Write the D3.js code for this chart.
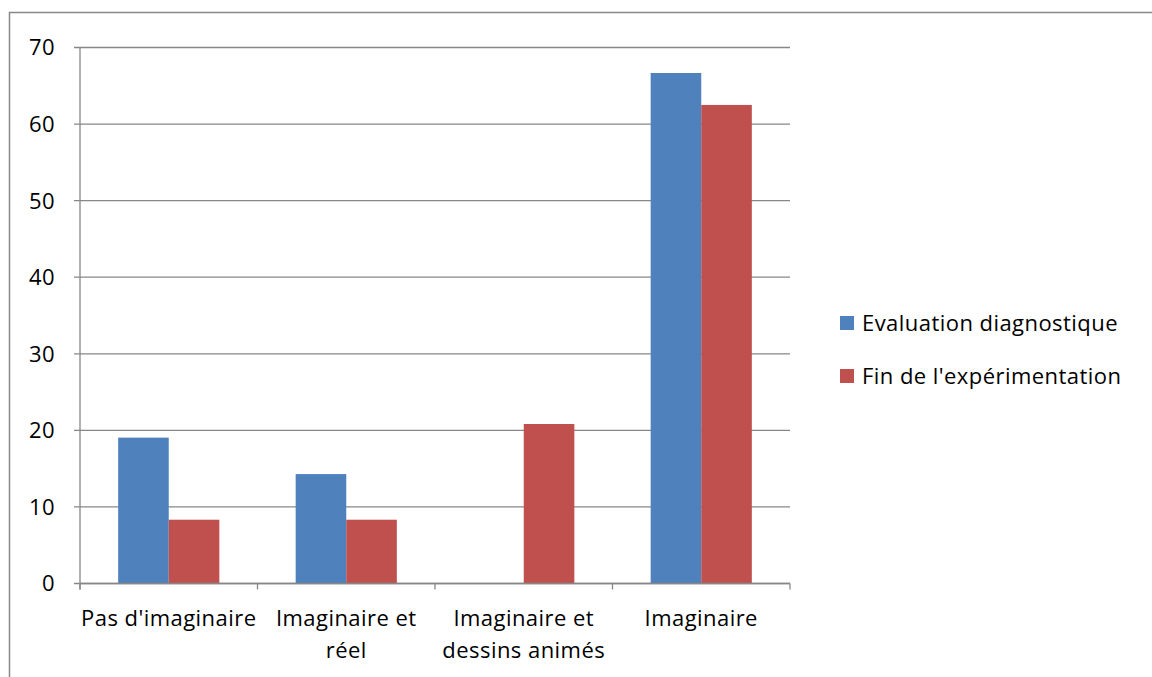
<!DOCTYPE html>
<html><head><meta charset="utf-8">
<script src="https://cdn.jsdelivr.net/npm/d3@7"></script>
<style>body{margin:0;background:#fff}svg{display:block}</style>
</head><body>
<script>
const categories = [["Pas d'imaginaire"], ["Imaginaire et", "réel"], ["Imaginaire et", "dessins animés"], ["Imaginaire"]];
const seriesNames = ["Evaluation diagnostique", "Fin de l'expérimentation"];
const evalValues = [19.05, 14.29, 0, 66.67];
const finValues = [8.33, 8.33, 20.83, 62.5];
const yTicks = [0, 10, 20, 30, 40, 50, 60, 70];
const colors = ["#4F81BD", "#C0504D"];

const W = 1152, H = 677;
const font = "'Open Sans', sans-serif";
const fs = 22, ls = 0.45;
const svg = d3.select("body").append("svg").attr("width", W).attr("height", H);
svg.append("rect").attr("x", 9.5).attr("y", 12.5).attr("width", W).attr("height", H)
  .attr("fill", "none").attr("stroke", "#898989").attr("stroke-width", 1.5);

const L = 80, R = 790, T = 47.5, B = 583.5;
const x = d3.scaleBand().domain(d3.range(categories.length)).range([L, R]).paddingInner(0.43).paddingOuter(0.215);
const xs = d3.scaleBand().domain([0, 1]).range([0, x.bandwidth()]);
const y = d3.scaleLinear().domain([0, 70]).range([B, T]);

const grid = svg.append("g");
grid.selectAll("line").data(yTicks).join("line")
  .attr("x1", L - 6).attr("x2", R).attr("y1", d => y(d)).attr("y2", d => y(d))
  .attr("stroke", "#878787").attr("stroke-width", 1.3);
svg.append("g").selectAll("text").data(yTicks).join("text")
  .attr("x", 55).attr("y", d => y(d)).attr("dy", "0.36em").attr("text-anchor", "end")
  .attr("font-family", font).attr("font-size", fs).attr("letter-spacing", ls).attr("fill", "#000").text(d => d);

const series = [evalValues, finValues];
series.forEach((vals, si) => {
  svg.append("g").selectAll("rect").data(vals).join("rect")
    .attr("x", (d, i) => x(i) + xs(si)).attr("width", xs.bandwidth())
    .attr("y", d => y(d)).attr("height", d => B - y(d)).attr("fill", colors[si]);
});

// axes
svg.append("line").attr("x1", L).attr("x2", L).attr("y1", T).attr("y2", B + 6).attr("stroke", "#878787").attr("stroke-width", 1.3);
svg.append("line").attr("x1", L).attr("x2", R).attr("y1", B).attr("y2", B).attr("stroke", "#878787").attr("stroke-width", 1.3);
const step = (R - L) / categories.length;
svg.append("g").selectAll("line").data(d3.range(categories.length + 1)).join("line")
  .attr("x1", i => L + i * step).attr("x2", i => L + i * step).attr("y1", B).attr("y2", B + 6)
  .attr("stroke", "#878787").attr("stroke-width", 1.3);

const lab = svg.append("g").selectAll("text").data(categories).join("text")
  .attr("x", (d, i) => L + (i + 0.5) * step).attr("y", 625.5).attr("text-anchor", "middle")
  .attr("font-family", font).attr("font-size", fs).attr("letter-spacing", ls).attr("fill", "#000");
lab.selectAll("tspan").data(d => d).join("tspan")
  .attr("x", function() { return this.parentNode.getAttribute("x"); })
  .attr("dy", (d, j) => j === 0 ? 0 : 32.5).text(d => d);

const leg = svg.append("g").selectAll("g").data(seriesNames).join("g")
  .attr("transform", (d, i) => `translate(840,${324 + i * 53})`);
leg.append("rect").attr("x", 0).attr("y", -8).attr("width", 14).attr("height", 14).attr("fill", (d, i) => colors[i]);
leg.append("text").attr("x", 22).attr("dy", "0.33em").attr("font-family", font).attr("font-size", fs).attr("letter-spacing", ls).text(d => d);
</script>
</body></html>
